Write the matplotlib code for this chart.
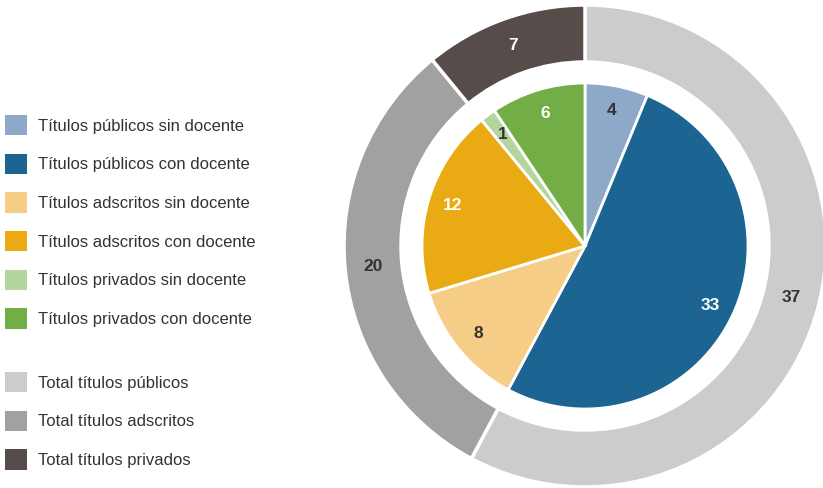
import matplotlib.pyplot as plt

## Data

inner_labels = ['Títulos públicos sin docente', 'Títulos públicos con docente',
                'Títulos adscritos sin docente', 'Títulos adscritos con docente',
                'Títulos privados sin docente', 'Títulos privados con docente']
inner_values = [4, 33, 8, 12, 1, 6]
inner_colors = ['#8DA8C9', '#1C6592', '#F5CD86', '#EAAA14', '#B4D59E', '#72AE45']
inner_text = ['#333333', 'white', '#333333', 'white', '#333333', 'white']

outer_labels = ['Total títulos públicos', 'Total títulos adscritos', 'Total títulos privados']
outer_values = [37, 20, 7]
outer_colors = ['#CCCCCC', '#A1A1A1', '#564D4B']
outer_text = ['#333333', '#333333', 'white']

## Figure

plt.rcParams['font.family'] = ['Liberation Sans', 'DejaVu Sans']

fig = plt.figure(figsize=(8.23, 4.88), dpi=100)
ax = fig.add_axes([0, 0, 1, 1])

center = (585, 242)
r_outer = 241
ring_w = 57
r_inner = 163

# outer ring of totals
outer_wedges, _, outer_auto = ax.pie(
    outer_values, colors=outer_colors, startangle=90, counterclock=False,
    center=center, radius=r_outer, autopct=lambda p: '{:.0f}'.format(p * sum(outer_values) / 100),
    pctdistance=1 - ring_w / 2 / r_outer,
    wedgeprops=dict(width=ring_w, edgecolor='white', linewidth=2.5), frame=True)

# inner pie, split by teaching staff
inner_wedges, _, inner_auto = ax.pie(
    inner_values, colors=inner_colors, startangle=90, counterclock=False,
    center=center, radius=r_inner, autopct=lambda p: '{:.0f}'.format(p * sum(inner_values) / 100),
    pctdistance=0.85,
    wedgeprops=dict(edgecolor='white', linewidth=2), frame=True)

for t, c in zip(outer_auto, outer_text):
    t.set_color(c)
    t.set_fontsize(12.5)
    t.set_fontweight('bold')
for t, c in zip(inner_auto, inner_text):
    t.set_color(c)
    t.set_fontsize(12.5)
    t.set_fontweight('bold')

ax.set_xlim(0, 823)
ax.set_ylim(0, 488)
ax.set_aspect('equal')
ax.axis('off')

leg_kw = dict(frameon=False, fontsize=12, handlelength=1.3, handleheight=1.5,
              handletextpad=0.66, labelspacing=1.1, borderaxespad=0, borderpad=0,
              labelcolor='#333333')
leg1 = ax.legend(inner_wedges, inner_labels, loc='upper left',
                 bbox_to_anchor=(5 / 823, 1 - 115 / 488), **leg_kw)
ax.add_artist(leg1)
ax.legend(outer_wedges, outer_labels, loc='upper left',
          bbox_to_anchor=(5 / 823, 1 - 372 / 488), **leg_kw)
for leg in (leg1, ax.get_legend()):
    for h in leg.legend_handles:
        h.set_edgecolor('none')

fig.savefig('out.png', dpi=100)
